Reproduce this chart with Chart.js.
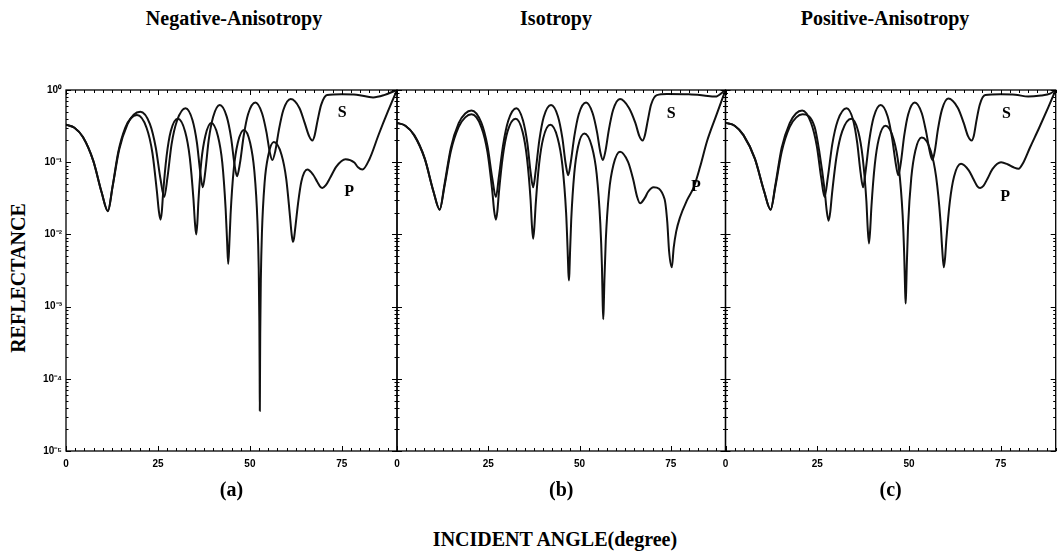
<!DOCTYPE html>
<html>
<head>
<meta charset="utf-8">
<script src="https://cdn.jsdelivr.net/npm/chart.js@4.4.0/dist/chart.umd.min.js"></script>
<style>
  body { margin: 0; background: #fff; }
  #wrap { position: relative; width: 1057px; height: 552px; overflow: hidden; }
  canvas { position: absolute; }
  .txt { position: absolute; font-family: "Liberation Serif", serif; font-weight: bold; color: #000; white-space: nowrap;
         text-align: center; font-size: 20px; line-height: 20px; height: 20px; }
</style>
</head>
<body>
<div id="wrap">
  <div class="txt" style="left:134px;top:8px;width:200px;">Negative-Anisotropy</div>
  <div class="txt" style="left:456px;top:8px;width:200px;">Isotropy</div>
  <div class="txt" style="left:785px;top:8px;width:200px;">Positive-Anisotropy</div>
  <div class="txt" style="left:-82px;top:268px;width:200px;transform:rotate(-90deg);">REFLECTANCE</div>
  <div class="txt" style="left:405px;top:529px;width:300px;">INCIDENT ANGLE(degree)</div>
  <canvas id="cA" width="400" height="431" style="left:0px;top:80px;"></canvas>
  <canvas id="cB" width="350" height="431" style="left:387px;top:80px;"></canvas>
  <canvas id="cC" width="342" height="431" style="left:715px;top:80px;"></canvas>
</div>
<script>
// reflectance vs incident angle, [angle (deg), R]
const negS = [[0,0.33],[2.3,0.30],[4.6,0.223],[7.4,0.105],[9.7,0.038],[11.4,0.021],
  [12.7,0.047],[14.5,0.152],[16.7,0.335],[18.4,0.455],[20.2,0.50],
  [22.8,0.339],[24.4,0.16],[25.7,0.058],[26.7,0.033],
  [27.6,0.062],[28.7,0.177],[30.2,0.378],[32.5,0.56],
  [34.4,0.382],[35.6,0.186],[36.5,0.073],[37.2,0.045],
  [37.9,0.076],[38.8,0.202],[40.0,0.422],[41.8,0.62],
  [43.7,0.428],[44.9,0.216],[45.8,0.094],[46.5,0.064],
  [47.3,0.097],[48.3,0.229],[49.5,0.461],[51.5,0.67],
  [53.3,0.476],[54.5,0.261],[55.4,0.138],[56.1,0.107],
  [56.9,0.142],[57.9,0.283],[59.1,0.528],[61.1,0.75],
  [63.5,0.56],[64.9,0.35],[66.1,0.23],[67.0,0.20],
  [67.6,0.235],[68.4,0.377],[69.4,0.626],[71,0.85],
  [75,0.87],[79,0.86],[83.5,0.79],[86.5,0.85],[90,1.0]];
const negP = [[0,0.33],[2.3,0.30],[4.6,0.223],[7.4,0.105],[9.7,0.038],[11.4,0.021],
  [12.6,0.044],[14.2,0.138],[16.1,0.30],[17.7,0.41],[19.3,0.45],
  [21.9,0.30],[23.5,0.134],[24.7,0.040],[25.25,0.021],[25.7,0.016],
  [26.05,0.0206],[26.4,0.037],[27.35,0.121],[28.5,0.27],[30.4,0.40],
  [32.4,0.265],[33.65,0.117],[34.65,0.031],[35.05,0.0147],[35.4,0.010],
  [35.7,0.0141],[36.0,0.0285],[36.8,0.103],[37.9,0.233],[39.5,0.35],
  [41.3,0.231],[42.5,0.098],[43.4,0.0228],[43.8,0.0081],[44.1,0.0039],
  [44.4,0.0072],[44.75,0.0189],[45.6,0.079],[46.7,0.185],[48.4,0.28],
  [50.1,0.183],[51.2,0.0765],[52.05,0.0153],[52.4,0.0034],[52.57,0.00062],[52.66,0.000105],[52.7,0.000036],
  [52.74,0.000083],[52.81,0.00042],[52.97,0.00228],[53.27,0.0104],[54.0,0.052],[55.0,0.124],[56.5,0.19],
  [58.6,0.127],[59.9,0.058],[60.9,0.0178],[61.35,0.0101],[61.7,0.0079],
  [62.0,0.0088],[62.3,0.0118],[63.1,0.027],[64.0,0.054],[65.6,0.079],
  [67.2,0.067],[68.3,0.0536],[69.1,0.046],[69.7,0.044],
  [70.6,0.0476],[71.9,0.062],[73.5,0.087],[76,0.11],
  [78.4,0.099],[79.4,0.085],[80.6,0.079],
  [82.5,0.11],[85,0.24],[87.5,0.5],[90,1.0]];

const isoS = [[0,0.35],[2.3,0.32],[4.7,0.237],[7.6,0.112],[9.95,0.040],[11.7,0.022],
  [13.0,0.049],[14.75,0.158],[16.9,0.348],[18.7,0.473],[20.4,0.52],
  [23.1,0.352],[24.8,0.166],[26.1,0.06],[27.1,0.033],
  [27.9,0.062],[29.1,0.177],[30.5,0.378],[32.7,0.56],
  [34.5,0.382],[35.7,0.186],[36.6,0.073],[37.3,0.045],
  [38.0,0.076],[39.0,0.202],[40.2,0.422],[42.2,0.62],
  [44.1,0.429],[45.3,0.217],[46.2,0.096],[46.9,0.066],
  [47.6,0.099],[48.6,0.231],[49.8,0.462],[51.8,0.67],
  [53.6,0.476],[54.8,0.261],[55.7,0.138],[56.4,0.107],
  [57.1,0.142],[58.05,0.283],[59.2,0.528],[61.1,0.75],
  [63.6,0.56],[65.3,0.35],[66.4,0.23],[67.3,0.20],
  [67.9,0.235],[68.7,0.377],[69.6,0.626],[71.2,0.85],
  [74,0.88],[80,0.87],[84,0.84],[87.2,0.81],[90,1.0]];
const isoP = [[0,0.35],[2.3,0.32],[4.7,0.237],[7.6,0.112],[9.95,0.040],[11.7,0.022],
  [13.0,0.046],[14.75,0.142],[16.9,0.309],[18.7,0.418],[20.4,0.46],
  [23.1,0.307],[24.8,0.137],[26.1,0.040],[26.63,0.021],[27.1,0.016],
  [27.48,0.0206],[27.9,0.037],[29.0,0.121],[30.3,0.268],[32.5,0.40],
  [34.4,0.265],[35.6,0.116],[36.6,0.030],[36.96,0.0134],[37.3,0.0087],
  [37.63,0.0126],[38.0,0.026],[38.95,0.096],[40.1,0.219],[42,0.33],
  [44.0,0.217],[45.3,0.092],[46.33,0.020],[46.74,0.0062],[46.95,0.003],[47.1,0.0023],
  [47.23,0.0029],[47.39,0.0053],[47.73,0.0158],[48.57,0.070],[49.6,0.164],[51.3,0.25],
  [53.4,0.164],[54.7,0.069],[55.7,0.0142],[56.14,0.0037],[56.34,0.0012],[56.5,0.00067],
  [56.64,0.00098],[56.82,0.0023],[57.2,0.0083],[58.1,0.039],[59.3,0.092],[61.1,0.14],
  [63.3,0.101],[64.7,0.058],[65.8,0.033],[66.6,0.027],
  [67.9,0.032],[68.8,0.039],[70.3,0.045],
  [73.3,0.031],[74.05,0.0148],[74.55,0.0058],[75.3,0.0035],
  [75.8,0.0065],[76.5,0.011],[77.5,0.017],[79.5,0.03],[81.3,0.045],[83,0.085],[85,0.2],[87.5,0.45],[90,1.0]];

const posS = [[0,0.35],[2.5,0.32],[4.9,0.237],[8.0,0.112],[10.5,0.040],[12.3,0.022],
  [13.6,0.049],[15.3,0.158],[17.5,0.348],[19.2,0.473],[20.9,0.52],
  [23.3,0.352],[24.9,0.166],[26.1,0.06],[27.0,0.033],
  [27.9,0.062],[29.1,0.177],[30.6,0.378],[33.0,0.56],
  [34.8,0.382],[35.9,0.186],[36.8,0.073],[37.5,0.045],
  [38.2,0.076],[39.2,0.202],[40.4,0.422],[42.3,0.62],
  [44.2,0.429],[45.4,0.217],[46.4,0.096],[47.1,0.066],
  [47.8,0.099],[48.7,0.231],[49.8,0.462],[51.6,0.67],
  [53.5,0.476],[54.7,0.261],[55.7,0.138],[56.4,0.107],
  [57.05,0.143],[57.9,0.285],[59.0,0.535],[60.7,0.76],
  [63.3,0.567],[64.9,0.353],[66.1,0.23],[67.1,0.20],
  [67.7,0.235],[68.4,0.377],[69.3,0.626],[70.8,0.85],
  [75,0.87],[79,0.86],[82.5,0.81],[86,0.84],[88.5,0.89],[90,1.0]];
const posP = [[0,0.35],[2.5,0.32],[4.9,0.237],[8.0,0.112],[10.5,0.040],[12.3,0.022],
  [13.6,0.046],[15.35,0.142],[17.5,0.309],[19.3,0.418],[21,0.46],
  [24.3,0.307],[25.6,0.137],[27.04,0.040],[27.6,0.021],[28.1,0.0155],
  [28.53,0.020],[29.03,0.0365],[30.27,0.12],[31.8,0.267],[34.3,0.40],
  [36.2,0.265],[37.4,0.115],[38.4,0.029],[38.76,0.0122],[39.1,0.0075],
  [39.42,0.0113],[39.78,0.0245],[40.7,0.093],[41.8,0.212],[43.6,0.32],
  [45.8,0.21],[47.2,0.088],[48.28,0.0185],[48.72,0.005],[48.94,0.0018],[49.1,0.0011],
  [49.23,0.0016],[49.41,0.0037],[49.76,0.0131],[50.64,0.061],[51.74,0.1445],[53.5,0.22],
  [55.9,0.145],[57.4,0.063],[58.6,0.0153],[59.08,0.0061],[59.5,0.0035],
  [59.83,0.0046],[60.2,0.0085],[61.15,0.0285],[62.3,0.0635],[64.2,0.095],
  [66.3,0.077],[67.6,0.058],[68.6,0.0468],[69.4,0.044],
  [70.3,0.047],[71.4,0.059],[72.8,0.081],[75.1,0.10],
  [77.0,0.093],[78.5,0.085],[79.9,0.081],
  [81,0.095],[83,0.16],[85.5,0.3],[88,0.58],[90,1.0]];

const xTicks = [0, 25, 50, 75];
const yTicks = [1e-5, 1e-4, 1e-3, 1e-2, 1e-1, 1];
const yTickLabels = ['10\u207B\u2075', '10\u207B\u2074', '10\u207B\u00B3', '10\u207B\u00B2', '10\u207B\u00B9', '10\u2070'];

// frame with inward ticks on all four sides
const framePlugin = {
  id: 'frame',
  afterDraw(chart) {
    const {ctx, chartArea: a, scales: {x, y}} = chart;
    ctx.save();
    ctx.strokeStyle = '#000';
    ctx.lineWidth = 1.3;
    ctx.strokeRect(a.left, a.top, a.right - a.left, a.bottom - a.top);
    ctx.lineWidth = 1;
    ctx.beginPath();
    for (let v = 0; v <= 90; v += 2.5) {
      const px = Math.round(x.getPixelForValue(v)) + 0.5;
      const len = v % 25 === 0 ? 5 : 3;
      ctx.moveTo(px, a.bottom); ctx.lineTo(px, a.bottom - len);
      ctx.moveTo(px, a.top); ctx.lineTo(px, a.top + len);
    }
    for (let e = -5; e <= 0; e++) {
      for (let m = 1; m < 10; m++) {
        const v = m * Math.pow(10, e);
        if (v > 1) break;
        const py = Math.round(y.getPixelForValue(v)) + 0.5;
        const len = m === 1 ? 5 : 2.5;
        ctx.moveTo(a.left, py); ctx.lineTo(a.left + len, py);
        ctx.moveTo(a.right, py); ctx.lineTo(a.right - len, py);
      }
    }
    ctx.stroke();
    ctx.restore();
  }
};

// S / P captions placed in data coordinates
const curveLabelPlugin = {
  id: 'curveLabels',
  afterDatasetsDraw(chart, args, opts) {
    const {ctx, scales: {x, y}} = chart;
    ctx.save();
    ctx.font = 'bold 16px "Liberation Serif"';
    ctx.textAlign = 'center';
    ctx.textBaseline = 'middle';
    ctx.fillStyle = '#000';
    (opts.items || []).forEach(it => ctx.fillText(it.text, x.getPixelForValue(it.x), y.getPixelForValue(it.y)));
    ctx.restore();
  }
};

function lineSet(points) {
  return {
    data: points.map(p => ({x: p[0], y: p[1]})),
    borderColor: '#111',
    borderWidth: 2,
    pointRadius: 0,
    fill: false,
    cubicInterpolationMode: 'monotone'
  };
}

function makePanel(id, sData, pData, pad, showY, letter, labels) {
  new Chart(document.getElementById(id), {
    type: 'line',
    data: { datasets: [lineSet(sData), lineSet(pData)] },
    options: {
      responsive: false,
      animation: false,
      layout: { padding: pad },
      plugins: {
        legend: { display: false },
        tooltip: { enabled: false },
        curveLabels: { items: labels }
      },
      scales: {
        x: {
          type: 'linear', min: 0, max: 90,
          grid: { display: false, drawTicks: false },
          border: { display: false },
          afterBuildTicks: ax => { ax.ticks = xTicks.map(v => ({value: v})); },
          afterFit: ax => { ax.height = 60; },
          ticks: { padding: 7, color: '#000', maxRotation: 0, font: { family: 'Liberation Sans', size: 10, weight: 'bold' } },
          title: { display: true, text: letter, color: '#000', padding: { top: 0, bottom: 8 },
                   font: { family: 'Liberation Serif', size: 20, weight: 'bold' } }
        },
        y: {
          type: 'logarithmic', min: 1e-5, max: 1,
          display: showY,
          grid: { display: false, drawTicks: false },
          border: { display: false },
          afterBuildTicks: ax => { ax.ticks = yTicks.map(v => ({value: v})); },
          afterFit: ax => { ax.width = showY ? 66 : 0; },
          ticks: {
            padding: 4, color: '#000',
            font: { family: 'Liberation Sans', size: 10, weight: 'bold' },
            callback: (v, i) => yTickLabels[i]
          }
        }
      }
    },
    plugins: [framePlugin, curveLabelPlugin]
  });
}

makePanel('cA', negS, negP, {top: 10, left: 0, right: 3, bottom: 0}, true, '(a)',
  [{text: 'S', x: 75.1, y: 0.48}, {text: 'P', x: 77, y: 0.039}]);
makePanel('cB', isoS, isoP, {top: 10, left: 10, right: 11.5, bottom: 0}, false, '(b)',
  [{text: 'S', x: 75.1, y: 0.46}, {text: 'P', x: 81.9, y: 0.045}]);
makePanel('cC', posS, posP, {top: 10, left: 10.5, right: 1.3, bottom: 0}, false, '(c)',
  [{text: 'S', x: 76.6, y: 0.46}, {text: 'P', x: 76.2, y: 0.033}]);
</script>
</body>
</html>
